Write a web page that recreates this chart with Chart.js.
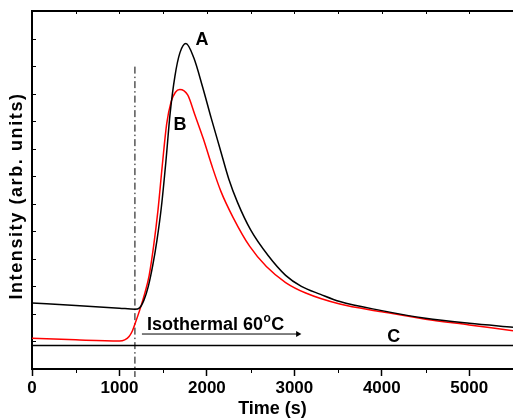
<!DOCTYPE html>
<html>
<head>
<meta charset="utf-8">
<script src="https://cdn.jsdelivr.net/npm/chart.js@4"></script>
<style>
html, body { margin: 0; padding: 0; background: #fff; }
</style>
</head>
<body>
<canvas id="chart" width="513" height="420"></canvas>
<script>
// curve A (black)
var timeA = [0, 500, 1000, 1177, 1230, 1280, 1330, 1380, 1430, 1480, 1530, 1580, 1634, 1691, 1760, 1850, 1950, 2050, 2150, 2250, 2350, 2500, 2700, 2900, 3080, 3300, 3520, 4000, 4500, 5000, 5500];
var curveA = [2.40, 2.31, 2.21, 2.17, 2.22, 2.50, 3.00, 3.75, 4.70, 5.90, 7.50, 9.30, 10.63, 11.48, 11.82, 11.30, 10.25, 9.10, 8.00, 6.90, 6.05, 5.05, 4.12, 3.40, 3.00, 2.71, 2.45, 2.12, 1.84, 1.66, 1.52];
// curve B (red)
var timeB = [0, 500, 1000, 1060, 1110, 1150, 1190, 1240, 1290, 1340, 1390, 1440, 1490, 1540, 1590, 1640, 1690, 1780, 1860, 1960, 2060, 2160, 2300, 2490, 2680, 2900, 3130, 3520, 4000, 4500, 5000, 5500];
var curveB = [1.12, 1.06, 1.02, 1.06, 1.18, 1.40, 1.75, 2.22, 2.75, 3.40, 4.45, 5.75, 7.40, 8.90, 9.70, 10.05, 10.15, 9.95, 9.25, 8.35, 7.35, 6.45, 5.50, 4.45, 3.72, 3.14, 2.76, 2.36, 2.08, 1.81, 1.60, 1.39];
// curve C (flat baseline)
var timeC = [0, 5500];
var curveC = [0.85, 0.85];
// start of isothermal step (dash-dot marker) and arrow
var stepTime = [1177, 1177];
var stepLevel = [10.98, -0.29];
var arrowTime = [1257, 3040];
var arrowLevel = [1.27, 1.27];

var xTicks = [0, 1000, 2000, 3000, 4000, 5000];
var xMinor = [500, 1500, 2500, 3500, 4500, 5500];
var yTicks = [0, 1, 2, 3, 4, 5, 6, 7, 8, 9, 10, 11, 12, 13];

// labels placed in data coordinates
var notes = [
  { text: 'A', t: 1943, v: 11.96 },
  { text: 'B', t: 1691, v: 8.87 },
  { text: 'C', t: 4137, v: 1.16 }
];

function pts(xs, ys) {
  return xs.map(function (x, i) { return { x: x, y: ys[i] }; });
}

var FONT = '"Liberation Sans", Arial, sans-serif';

var extras = {
  id: 'extras',
  afterDraw: function (chart) {
    var ctx = chart.ctx;
    var x = chart.scales.x, y = chart.scales.y;
    var area = chart.chartArea;
    ctx.save();
    ctx.strokeStyle = '#000';
    ctx.lineWidth = 1;
    // left ticks, pointing inward
    yTicks.forEach(function (v) {
      var py = Math.round(y.getPixelForValue(v)) + 0.5;
      ctx.beginPath();
      ctx.moveTo(area.left, py);
      ctx.lineTo(area.left + 4, py);
      ctx.stroke();
    });
    // top ticks inward, bottom minor ticks outward
    xTicks.concat(xMinor).forEach(function (v) {
      var px = Math.round(x.getPixelForValue(v)) + 0.5;
      ctx.beginPath();
      ctx.moveTo(px, area.top);
      ctx.lineTo(px, area.top + 3);
      ctx.stroke();
    });
    xMinor.forEach(function (v) {
      var px = Math.round(x.getPixelForValue(v)) + 0.5;
      ctx.beginPath();
      ctx.moveTo(px, area.bottom);
      ctx.lineTo(px, area.bottom + 4);
      ctx.stroke();
    });

    ctx.fillStyle = '#000';
    ctx.font = 'bold 18px ' + FONT;
    ctx.textAlign = 'center';
    ctx.textBaseline = 'middle';
    notes.forEach(function (n) {
      ctx.fillText(n.text, x.getPixelForValue(n.t), y.getPixelForValue(n.v));
    });

    // Isothermal 60°C with superscript o
    var tx = x.getPixelForValue(1314), ty = y.getPixelForValue(1.42);
    ctx.textAlign = 'left';
    ctx.textBaseline = 'alphabetic';
    var s1 = 'Isothermal 60';
    ctx.fillText(s1, tx, ty);
    var w1 = ctx.measureText(s1).width;
    ctx.font = 'bold 12px ' + FONT;
    ctx.fillText('o', tx + w1 + 0.5, ty - 8);
    var w2 = ctx.measureText('o').width;
    ctx.font = 'bold 18px ' + FONT;
    ctx.fillText('C', tx + w1 + w2 + 1, ty);

    // y axis title, a bit spaced out like the original
    ctx.save();
    ctx.translate(17, (area.top + area.bottom) / 2 + 6);
    ctx.rotate(-Math.PI / 2);
    ctx.textAlign = 'center';
    ctx.textBaseline = 'middle';
    ctx.font = 'bold 18px ' + FONT;
    if ('letterSpacing' in ctx) ctx.letterSpacing = '1.6px';
    ctx.fillText('Intensity (arb. units)', 0, 0);
    ctx.restore();
    ctx.restore();
  }
};

var ctx = document.getElementById('chart').getContext('2d');
var chart = new Chart(ctx, {
  type: 'line',
  data: {
    datasets: [
      {
        data: pts(timeA, curveA),
        borderColor: '#000000',
        borderWidth: 1.5,
        pointRadius: 0,
        cubicInterpolationMode: 'monotone'
      },
      {
        data: pts(timeB, curveB),
        borderColor: '#ff0000',
        borderWidth: 1.5,
        pointRadius: 0,
        cubicInterpolationMode: 'monotone'
      },
      {
        data: pts(timeC, curveC),
        borderColor: '#000000',
        borderWidth: 1.5,
        pointRadius: 0
      },
      {
        data: pts(stepTime, stepLevel),
        borderColor: '#000000',
        borderWidth: 1,
        borderDash: [7, 3, 1.5, 3],
        pointRadius: 0,
        clip: false
      },
      {
        data: pts(arrowTime, arrowLevel),
        borderColor: '#000000',
        borderWidth: 1,
        pointStyle: 'triangle',
        rotation: 90,
        pointRadius: [0, 3.5],
        pointBackgroundColor: '#000000',
        pointBorderWidth: 0
      }
    ]
  },
  options: {
    responsive: false,
    animation: false,
    layout: { padding: 0, autoPadding: false },
    plugins: {
      legend: { display: false },
      tooltip: { enabled: false }
    },
    scales: {
      x: {
        type: 'linear',
        position: 'bottom',
        min: 0,
        max: 5500,
        afterBuildTicks: function (s) {
          s.ticks = xTicks.map(function (v) { return { value: v }; });
        },
        afterFit: function (s) {
          s.height = 51;
          s.paddingRight = 0;
          s.paddingLeft = 0;
        },
        ticks: {
          color: '#000',
          padding: 2,
          maxRotation: 0,
          font: { family: FONT, size: 17, weight: 'bold' },
          callback: function (v) { return String(v); }
        },
        grid: {
          drawOnChartArea: false,
          drawTicks: true,
          tickLength: 7,
          tickWidth: 1.5,
          tickColor: '#000'
        },
        border: { color: '#000', width: 2 },
        title: {
          display: true,
          text: 'Time (s)',
          color: '#000',
          font: { family: FONT, size: 18, weight: 'bold' },
          padding: { top: 0, bottom: 0 }
        }
      },
      x2: {
        type: 'linear',
        position: 'top',
        display: true,
        min: 0,
        max: 5500,
        afterFit: function (s) {
          s.height = 11;
          s.paddingRight = 0;
          s.paddingLeft = 0;
        },
        ticks: { display: false },
        grid: { display: false },
        border: { color: '#000', width: 2 }
      },
      y: {
        type: 'linear',
        min: 0,
        max: 13,
        afterBuildTicks: function (s) {
          s.ticks = yTicks.map(function (v) { return { value: v }; });
        },
        afterFit: function (s) {
          s.width = 32;
          s.paddingTop = 0;
          s.paddingBottom = 0;
        },
        ticks: { display: false },
        grid: { display: false },
        border: { color: '#000', width: 2 }
      }
    }
  },
  plugins: [extras]
});
</script>
</body>
</html>
